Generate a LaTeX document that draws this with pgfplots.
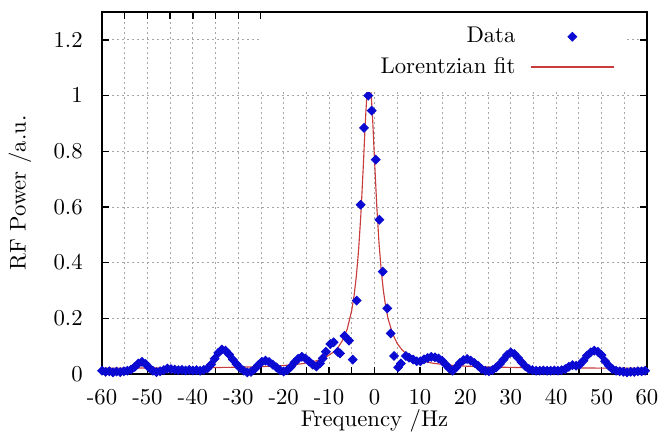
\documentclass[border=0pt]{standalone}
\usepackage{pgfplots}
\pgfplotsset{compat=1.18}
\definecolor{datablue}{RGB}{10,10,210}
\definecolor{fitred}{RGB}{200,60,60}
\begin{document}
\begin{tikzpicture}
\begin{axis}[
  scale only axis,
  width=239.8pt, height=159.3pt,
  xmin=-60, xmax=60, ymin=0, ymax=1.3,
  xtick={-60,-55,...,60},
  xticklabels={-60,,-50,,-40,,-30,,-20,,-10,,0,,10,,20,,30,,40,,50,,60},
  ytick={0,0.2,0.4,0.6,0.8,1,1.2},
  tick align=inside,
  major tick length=3pt,
  every tick/.style={black, line width=0.6pt},
  axis line style={line width=0.6pt},
  grid=major,
  grid style={gray!70, line width=0.35pt, dash pattern=on 1pt off 1.2pt},
  xticklabel style={yshift=-3pt},
  yticklabel style={xshift=-5pt},
  xlabel={Frequency /Hz},
  ylabel={RF Power /a.u.},
  every axis x label/.style={at={(axis description cs:0.5,-0.13)}, anchor=center},
  every axis y label/.style={at={(axis description cs:-0.1505,0.5)}, rotate=90, anchor=center},
  clip=false,
  legend cell align=right,
  legend plot pos=right,
  legend style={at={(0.963,1)}, anchor=north east, draw=none, fill=white,
    inner xsep=5.5pt, inner ysep=4.5pt, column sep=4.8pt, row sep=1pt,
    nodes={inner sep=2pt}},
]

% measured points
\addplot [only marks, mark=square*, mark size=1.35pt, color=datablue,
  mark options={rotate=45, fill=datablue, draw=datablue},
  legend image code/.code={
    \fill[datablue] (16.1pt,0pt) -- (18pt,1.9pt) -- (19.9pt,0pt) -- (18pt,-1.9pt) -- cycle;
    \path[draw=none, fill=none] (0pt,0pt) (36pt,0pt);}]
  coordinates {
(-60,0.012) (-59.2,0.008) (-58.4,0.010) (-57.6,0.006) (-56.8,0.009)
(-56.0,0.007) (-55.2,0.010) (-54.4,0.012) (-53.6,0.016) (-52.8,0.026)
(-52.0,0.038) (-51.2,0.044) (-50.4,0.036) (-49.6,0.022) (-48.8,0.012)
(-48.0,0.007) (-47.2,0.010) (-46.4,0.014) (-45.6,0.020) (-44.8,0.018)
(-44.0,0.016) (-43.2,0.014) (-42.4,0.015) (-41.6,0.013) (-40.8,0.015)
(-40.0,0.013) (-39.2,0.014) (-38.4,0.012) (-37.6,0.015) (-36.8,0.020)
(-36.0,0.034) (-35.2,0.055) (-34.4,0.076) (-33.6,0.088) (-32.8,0.084)
(-32.0,0.070) (-31.2,0.052) (-30.4,0.036) (-29.6,0.022) (-28.8,0.012)
(-28.0,0.006) (-27.2,0.008) (-26.4,0.018) (-25.6,0.032) (-24.8,0.044)
(-24.0,0.048) (-23.2,0.043) (-22.4,0.034) (-21.6,0.024) (-20.8,0.014)
(-20.0,0.009) (-19.2,0.014) (-18.4,0.026) (-17.6,0.042) (-16.8,0.055)
(-16.0,0.062) (-15.2,0.056) (-14.4,0.045) (-13.6,0.034) (-12.8,0.027)
(-12.0,0.038) (-11.4,0.056) (-10.7,0.080) (-9.7,0.108) (-9.0,0.114)
(-8.1,0.080) (-7.6,0.074) (-6.6,0.137) (-5.6,0.120) (-4.8,0.052)
(-3.92,0.264) (-3.04,0.608) (-2.31,0.884) (-1.37,1.000) (-0.62,0.946)
(0.26,0.770) (1.06,0.554) (1.81,0.368) (2.82,0.236) (3.56,0.146)
(4.3,0.065) (5.2,0.024) (5.8,0.038) (6.9,0.065) (7.6,0.059)
(8.5,0.052) (9.3,0.046) (10.1,0.046) (10.9,0.053) (11.7,0.058)
(12.5,0.062) (13.3,0.060) (14.1,0.056) (14.9,0.048) (15.7,0.034)
(16.5,0.020) (17.2,0.012) (18.0,0.024) (18.8,0.040) (19.6,0.050)
(20.4,0.054) (21.2,0.048) (22.0,0.040) (22.8,0.030) (23.6,0.018)
(24.4,0.012) (25.2,0.010) (26.0,0.014) (26.8,0.024) (27.6,0.036)
(28.4,0.052) (29.2,0.068) (30.0,0.078) (30.8,0.072) (31.6,0.058)
(32.4,0.042) (33.2,0.028) (34.0,0.018) (34.8,0.014) (35.6,0.012)
(36.4,0.012) (37.2,0.013) (38.0,0.012) (38.8,0.012) (39.6,0.013)
(40.4,0.012) (41.2,0.014) (42.0,0.018) (42.8,0.026) (43.6,0.032)
(44.4,0.030) (45.2,0.034) (46.0,0.048) (46.8,0.066) (47.6,0.078)
(48.4,0.084) (49.2,0.080) (50.0,0.068) (50.8,0.046) (51.6,0.030)
(52.4,0.018) (53.2,0.012) (54.0,0.010) (54.8,0.008) (55.6,0.006)
(56.4,0.008) (57.2,0.008) (58.0,0.010) (58.8,0.010) (59.6,0.012)
};
\addlegendentry{\makebox[104.5pt][r]{Data}}

% fit curve
\addplot [color=fitred, line width=0.5pt,
  legend image code/.code={\fill[fitred] (0pt,-0.15pt) rectangle (36pt,0.15pt);}]
  coordinates {
(-60,0.021) (-50,0.022) (-40,0.0225) (-30,0.0245) (-25,0.0267)
(-20,0.0306) (-16,0.037) (-13,0.0465) (-11,0.058) (-9,0.079)
(-8,0.096) (-7,0.122) (-6,0.162) (-5,0.23) (-4.5,0.281)
(-4,0.351) (-3.5,0.446) (-3,0.573) (-2.5,0.735) (-2,0.912)
(-1.6,1.025) (-1.4,1.059) (-1.2,1.07) (-1.0,1.059) (-0.8,1.025)
(-0.4,0.912) (0,0.771) (0.5,0.603) (1,0.469) (1.5,0.368)
(2,0.294) (2.5,0.239) (3,0.198) (4,0.144) (5,0.110)
(6,0.088) (7,0.073) (8,0.063) (9,0.055) (11,0.045)
(13,0.0385) (16,0.0327) (20,0.0284) (25,0.0255) (30,0.0239)
(40,0.0222) (50,0.0214) (60,0.021)
};
\addlegendentry{Lorentzian fit}
\end{axis}
\pgfresetboundingbox
\path[use as bounding box] ([xshift=-44.9pt,yshift=-29pt]current axis.south west)
  rectangle ([xshift=7.5pt,yshift=5.3pt]current axis.north east);
\end{tikzpicture}
\end{document}
